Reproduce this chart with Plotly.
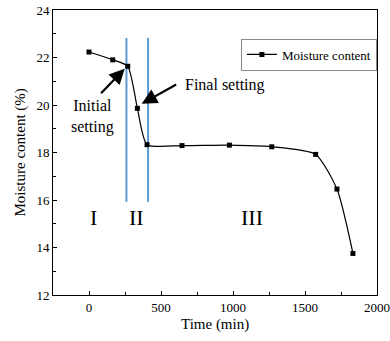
import plotly.graph_objects as go

time_min = [0, 165, 269, 336, 403, 646, 975, 1269, 1574, 1722, 1833]
moisture = [22.23, 21.9, 21.63, 19.86, 18.33, 18.29, 18.31, 18.24, 17.92, 16.46, 13.75]
stage_bounds = [260, 410]
stage_line_y = [15.92, 22.82]
stage_labels = ["I", "II", "III"]
stage_label_x = [33, 331, 1130]
stage_label_y = 15.25

FONT = "Liberation Serif, Times New Roman, serif"

fig = go.Figure()
for xb in stage_bounds:
    fig.add_trace(go.Scatter(x=[xb, xb], y=stage_line_y, mode="lines",
                             line=dict(color="#5b9bd5", width=2), showlegend=False, hoverinfo="skip"))

fig.add_trace(go.Scatter(x=time_min, y=moisture, mode="lines+markers", name="Moisture content",
                         line=dict(color="black", width=1.2, shape="spline", smoothing=0.6),
                         marker=dict(symbol="square", size=5, color="black")))

for lab, lx in zip(stage_labels, stage_label_x):
    fig.add_annotation(x=lx, y=stage_label_y, text=lab, showarrow=False,
                       font=dict(family=FONT, size=22, color="black"))

fig.add_annotation(x=248, y=21.53, ax=74, ay=20.43, axref="x", ayref="y", text="",
                   showarrow=True, arrowhead=2, arrowsize=1.4, arrowwidth=2.2, arrowcolor="black")
fig.add_annotation(x=366, y=20.05, ax=616, ay=20.9, axref="x", ayref="y", text="",
                   showarrow=True, arrowhead=2, arrowsize=1.4, arrowwidth=2.2, arrowcolor="black")
fig.add_annotation(x=26, y=19.5, text="Initial<br>setting", showarrow=False,
                   font=dict(family=FONT, size=16, color="black"))
fig.add_annotation(x=651, y=20.85, text="Final setting", showarrow=False, xanchor="left",
                   font=dict(family=FONT, size=16, color="black"))

# axis titles placed as paper annotations
fig.add_annotation(xref="paper", yref="paper", x=(20 - 53) / 324, y=0.5, text="Moisture content (%)",
                   xanchor="center", yanchor="middle",
                   textangle=-90, showarrow=False, font=dict(family=FONT, size=15, color="black"))
fig.add_annotation(xref="paper", yref="paper", x=(215 - 53) / 324, y=(295 - 325) / 285, text="Time (min)",
                   xanchor="center", yanchor="middle",
                   showarrow=False, font=dict(family=FONT, size=15, color="black"))

fig.update_layout(
    width=390, height=341,
    margin=dict(l=53, r=13, t=10, b=46, autoexpand=False),
    paper_bgcolor="white", plot_bgcolor="white",
    font=dict(family=FONT, size=13, color="black"),
    legend=dict(x=0.58, y=0.9, xanchor="left", yanchor="top",
                bordercolor="#888", borderwidth=1, bgcolor="white",
                font=dict(family=FONT, size=13), itemwidth=30,
                tracegroupgap=0),
)
fig.update_xaxes(range=[-250, 2000], tickvals=[0, 500, 1000, 1500, 2000], automargin=False,
                 ticks="inside", ticklen=4, tickcolor="black",
                 minor=dict(tickvals=[250, 750, 1250, 1750], ticks="inside", ticklen=3, tickcolor="black"),
                 showline=True, linecolor="black", linewidth=1, mirror=True, showgrid=False, zeroline=False)
fig.update_yaxes(range=[12, 24], tickvals=[12, 14, 16, 18, 20, 22, 24], automargin=False,
                 ticks="inside", ticklen=4, tickcolor="black",
                 minor=dict(tickvals=[13, 15, 17, 19, 21, 23], ticks="inside", ticklen=3, tickcolor="black"),
                 showline=True, linecolor="black", linewidth=1, mirror=True, showgrid=False, zeroline=False)

fig.write_html("out.html")
